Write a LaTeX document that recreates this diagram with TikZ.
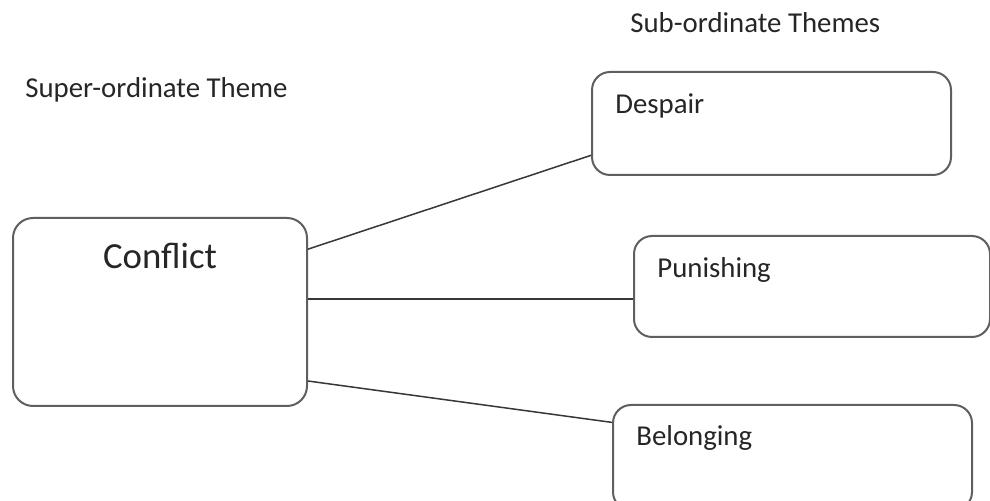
\documentclass[tikz,border=0pt]{standalone}
\usepackage{fontspec}
\setmainfont{Carlito}
\usepackage{xcolor}
\usepackage{tikz}
\usetikzlibrary{positioning}
\definecolor{boxline}{RGB}{95,95,95}
\definecolor{linkline}{RGB}{55,55,55}
\tikzstyle{themebox} = [rectangle, rounded corners=9pt, inner sep=0pt, draw=boxline, line width=1pt, fill=white]
\tikzstyle{boxtext}  = [inner sep=0pt, font=\fontsize{14.4}{16}\selectfont, text=black!85]
\tikzstyle{link}     = [draw=linkline, line width=0.75pt]
\tikzset{every node/.style={align=center}}

\begin{document}
\begin{tikzpicture}[x=0.5pt, y=-0.5pt]
    \useasboundingbox (0,0) rectangle (990,501);
    % headings
    \node[boxtext, anchor=base west] (supertitle) at (25,98)  {Super-ordinate Theme};
    \node[boxtext, anchor=base west] (subtitle)   at (630,33) {Sub-ordinate Themes};

    % theme boxes
    \node[themebox, rounded corners=10pt, minimum width=147pt, minimum height=94pt,
          label={[boxtext, anchor=base, yshift=-26pt, font=\fontsize{18.4}{20}\selectfont]north:Conflict}]
          (conflict) at (160,312) {};
    \node[themebox, minimum width=179.5pt, minimum height=51.5pt,
          label={[boxtext, anchor=base west, xshift=12pt, yshift=-21.5pt]north west:Despair}]
          (despair) at (771.5,123.5) {};
    \node[themebox, minimum width=178pt, minimum height=50.5pt,
          label={[boxtext, anchor=base west, xshift=12pt, yshift=-21.5pt]north west:Punishing}]
          (punishing) at (812,286.5) {};
    \node[themebox, minimum width=179.5pt, minimum height=52.5pt,
          label={[boxtext, anchor=base west, xshift=12pt, yshift=-21pt]north west:Belonging}]
          (belonging) at (792.5,457.5) {};

    \draw [link] (conflict.23.5)  -- (despair.190.6);
    \draw [link] (conflict.5.44)  -- (conflict.5.44 -| punishing.west);
    \draw [link] (conflict.-25.5) -- (belonging.169.7);
\end{tikzpicture}
\end{document}
